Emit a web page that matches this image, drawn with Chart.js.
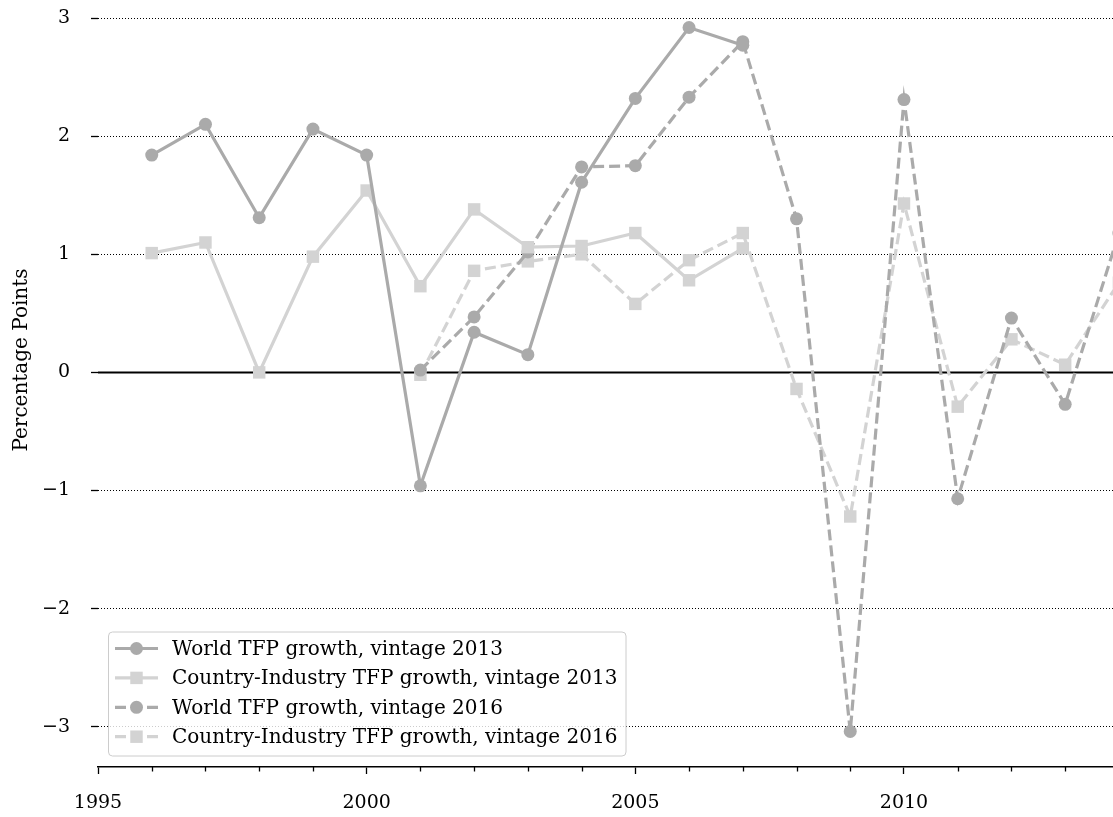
<!DOCTYPE html>
<html>
<head>
<meta charset="utf-8">
<script src="https://cdn.jsdelivr.net/npm/chart.js@4.4.1/dist/chart.umd.min.js"></script>
<style>
  html, body { margin: 0; padding: 0; background: #fff; }
  #wrap { width: 1113px; height: 817px; }
</style>
</head>
<body>
<div id="wrap"><canvas id="c" width="1113" height="817"></canvas></div>
<script>
// Years covered by each data vintage
const years2013 = [1996, 1997, 1998, 1999, 2000, 2001, 2002, 2003, 2004, 2005, 2006, 2007];
const years2016 = [2001, 2002, 2003, 2004, 2005, 2006, 2007, 2008, 2009, 2010, 2011, 2012, 2013, 2014];

// TFP growth, percentage points
const worldTfp2013   = [1.84, 2.10, 1.31, 2.06, 1.84, -0.96, 0.34, 0.15, 1.61, 2.32, 2.92, 2.77];
const countryTfp2013 = [1.01, 1.10, 0.00, 0.98, 1.54, 0.73, 1.38, 1.06, 1.07, 1.18, 0.78, 1.05];
const worldTfp2016   = [0.02, 0.47, 1.02, 1.74, 1.75, 2.33, 2.80, 1.30, -3.04, 2.31, -1.07, 0.46, -0.27, 1.18];
const countryTfp2016 = [-0.02, 0.86, 0.94, 1.00, 0.58, 0.95, 1.18, -0.14, -1.22, 1.43, -0.29, 0.28, 0.065, 0.76];

const seriesLabels = [
  'World TFP growth, vintage 2013',
  'Country-Industry TFP growth, vintage 2013',
  'World TFP growth, vintage 2016',
  'Country-Industry TFP growth, vintage 2016'
];
const yAxisTitle = 'Percentage Points';

const SERIF = '"DejaVu Serif", "Liberation Serif", serif';
const DARK = '#aaaaaa';
const LIGHT = '#d3d3d3';

function pairs(xs, ys) { return xs.map((x, i) => ({ x: x, y: ys[i] })); }

function series(label, xs, ys, color, style, dashed) {
  return {
    label: label,
    data: pairs(xs, ys),
    borderColor: color,
    backgroundColor: color,
    borderWidth: 3.2,
    borderDash: dashed ? [11, 5] : [],
    pointStyle: style,
    pointRadius: style === 'circle' ? 6.5 : 8.8,
    pointBorderWidth: 0,
    pointBackgroundColor: color,
    pointHoverRadius: style === 'circle' ? 6.5 : 8.8,
    tension: 0,
    fill: false
  };
}

// Keep the plot area flush with the canvas edges
function noAutoPadding(scale) {
  scale.paddingTop = 0;
  scale.paddingBottom = 0;
  scale.paddingLeft = 0;
  scale.paddingRight = 0;
}

// Horizontal reference line at zero, under the series
const zeroLine = {
  id: 'zeroLine',
  beforeDatasetsDraw(chart) {
    const { ctx, chartArea, scales } = chart;
    const y = scales.y.getPixelForValue(0);
    ctx.save();
    ctx.strokeStyle = '#000';
    ctx.lineWidth = 2;
    ctx.beginPath();
    ctx.moveTo(chartArea.left, y);
    ctx.lineTo(chartArea.right, y);
    ctx.stroke();
    ctx.restore();
  }
};

// Short yearly ticks between the labelled five-year ticks
const minorTicks = {
  id: 'minorTicks',
  afterDraw(chart) {
    const { ctx, chartArea, scales } = chart;
    const xs = scales.x;
    ctx.save();
    ctx.strokeStyle = '#000';
    ctx.lineWidth = 1.3;
    for (let yr = Math.ceil(xs.min); yr <= xs.max; yr++) {
      if (yr % 5 === 0) continue;
      const px = Math.round(xs.getPixelForValue(yr)) + 0.5;
      ctx.beginPath();
      ctx.moveTo(px, chartArea.bottom);
      ctx.lineTo(px, chartArea.bottom + 4.5);
      ctx.stroke();
    }
    ctx.restore();
  }
};

// Vertical axis title
const axisTitle = {
  id: 'axisTitle',
  afterDraw(chart) {
    const ctx = chart.ctx;
    ctx.save();
    ctx.translate(22, 360);
    ctx.rotate(-Math.PI / 2);
    ctx.font = '20px ' + SERIF;
    ctx.fillStyle = '#000';
    ctx.textAlign = 'center';
    ctx.textBaseline = 'middle';
    ctx.fillText(yAxisTitle, 0, 0);
    ctx.restore();
  }
};

// Boxed legend in the lower left of the plot
const boxLegend = {
  id: 'boxLegend',
  afterDraw(chart) {
    const ctx = chart.ctx;
    const bx = 108.5, by = 632, bw = 517.5, bh = 124, r = 4;
    ctx.save();
    ctx.beginPath();
    ctx.moveTo(bx + r, by);
    ctx.lineTo(bx + bw - r, by);
    ctx.arcTo(bx + bw, by, bx + bw, by + r, r);
    ctx.lineTo(bx + bw, by + bh - r);
    ctx.arcTo(bx + bw, by + bh, bx + bw - r, by + bh, r);
    ctx.lineTo(bx + r, by + bh);
    ctx.arcTo(bx, by + bh, bx, by + bh - r, r);
    ctx.lineTo(bx, by + r);
    ctx.arcTo(bx, by, bx + r, by, r);
    ctx.closePath();
    ctx.fillStyle = 'rgba(255,255,255,0.8)';
    ctx.fill();
    ctx.strokeStyle = '#cccccc';
    ctx.lineWidth = 1;
    ctx.stroke();

    chart.data.datasets.forEach((ds, i) => {
      const cy = 648.5 + i * 29.4;
      ctx.strokeStyle = ds.borderColor;
      ctx.lineWidth = ds.borderWidth;
      ctx.setLineDash(ds.borderDash);
      ctx.beginPath();
      ctx.moveTo(115, cy);
      ctx.lineTo(158, cy);
      ctx.stroke();
      ctx.setLineDash([]);
      ctx.fillStyle = ds.pointBackgroundColor;
      if (ds.pointStyle === 'circle') {
        ctx.beginPath();
        ctx.arc(136.5, cy, ds.pointRadius, 0, Math.PI * 2);
        ctx.fill();
      } else {
        const h = ds.pointRadius * Math.SQRT1_2;
        ctx.fillRect(136.5 - h, cy - h, 2 * h, 2 * h);
      }
      ctx.fillStyle = '#000';
      ctx.font = '20px ' + SERIF;
      ctx.textAlign = 'left';
      ctx.textBaseline = 'middle';
      ctx.fillText(ds.label, 172, cy + 1);
    });
    ctx.restore();
  }
};

new Chart(document.getElementById('c'), {
  type: 'line',
  data: {
    datasets: [
      series(seriesLabels[0], years2013, worldTfp2013, DARK, 'circle', false),
      series(seriesLabels[1], years2013, countryTfp2013, LIGHT, 'rect', false),
      series(seriesLabels[2], years2016, worldTfp2016, DARK, 'circle', true),
      series(seriesLabels[3], years2016, countryTfp2016, LIGHT, 'rect', true)
    ]
  },
  options: {
    responsive: false,
    animation: false,
    devicePixelRatio: 1,
    layout: { padding: 0, autoPadding: false },
    plugins: { legend: { display: false }, tooltip: { enabled: false } },
    scales: {
      x: {
        type: 'linear',
        min: 1995,
        max: 2013.89,
        afterFit(scale) { scale.height = 50; noAutoPadding(scale); },
        ticks: {
          stepSize: 5,
          includeBounds: false,
          autoSkip: false,
          maxRotation: 0,
          padding: 18,
          color: '#000',
          font: { family: SERIF, size: 19 },
          callback: (v) => String(v)
        },
        grid: {
          drawOnChartArea: false,
          drawTicks: true,
          tickLength: 7,
          tickColor: '#000',
          tickWidth: 1.3
        },
        border: { display: true, color: '#000', width: 1.5 }
      },
      y: {
        type: 'linear',
        min: -3.341,
        max: 3.153,
        afterFit(scale) { scale.width = 98; noAutoPadding(scale); },
        ticks: {
          stepSize: 1,
          includeBounds: false,
          padding: 21,
          color: '#000',
          font: { family: SERIF, size: 19 },
          callback: (v) => (v < 0 ? '\u2212' + Math.abs(v) : String(v))
        },
        grid: {
          color: '#000',
          lineWidth: 1,
          drawTicks: true,
          tickLength: 7,
          tickColor: '#000',
          tickWidth: 1.3,
          tickBorderDash: []
        },
        border: { display: false, dash: [1, 2] }
      }
    }
  },
  plugins: [zeroLine, minorTicks, axisTitle, boxLegend]
});
</script>
</body>
</html>
